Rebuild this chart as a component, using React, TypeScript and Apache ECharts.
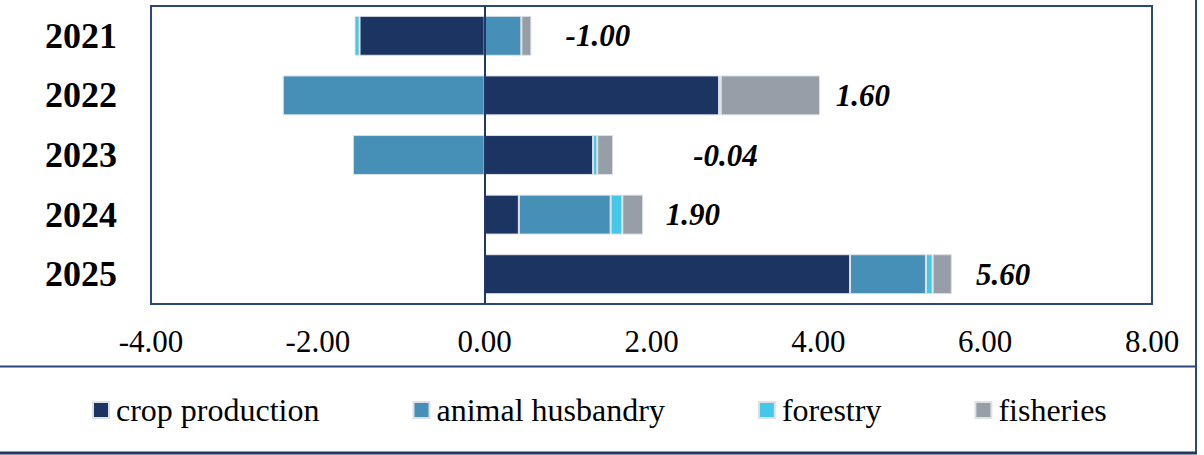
import React, { useEffect, useRef } from "react";
import * as echarts from "echarts";

const years = ["2021", "2022", "2023", "2024", "2025"];
const cropProduction = [-1.5, 2.81, 1.3, 0.41, 4.38];
const animalHusbandry = [0.44, -2.42, -1.58, 1.1, 0.91];
const forestry = [-0.06, 0.02, 0.05, 0.14, 0.08];
const fisheries = [0.12, 1.19, 0.19, 0.25, 0.23];
const totals = [-1.0, 1.6, -0.04, 1.9, 5.6];
const totalLabelAt = [0.97, 4.21, 2.5, 2.17, 5.89];
const xTicks = { min: -4, max: 8, interval: 2 };

const FONT = "'Liberation Serif', 'Times New Roman', serif";
const NAVY = "#2b4878";

export default function App() {
  const ref = useRef<HTMLDivElement>(null);
  useEffect(() => {
    if (!ref.current) return;
    const chart = echarts.init(ref.current, undefined, { renderer: "svg" });
    const barBase = {
      type: "bar",
      stack: "total",
      barCategoryGap: "33%",
      itemStyle: { borderColor: "#dde1e6", borderWidth: 1 },
    };
    chart.setOption({
      animation: false,
      backgroundColor: "#ffffff",
      grid: {
        left: 151,
        top: 6,
        width: 1001,
        height: 298,
        show: true,
        borderColor: NAVY,
        borderWidth: 2,
        backgroundColor: "transparent",
      },
      legend: {
        left: 92,
        top: 394,
        padding: 0,
        itemGap: 93,
        itemWidth: 16,
        itemHeight: 16,
        icon: "rect",
        textStyle: {
          fontFamily: FONT,
          fontSize: 32,
          color: "#000",
          padding: [0, 0, 0, 2],
        },
        data: ["crop production", "animal husbandry", "forestry", "fisheries"],
      },
      xAxis: {
        type: "value",
        min: xTicks.min,
        max: xTicks.max,
        interval: xTicks.interval,
        axisLine: { show: false },
        axisTick: { show: false },
        splitLine: { show: false },
        axisLabel: {
          fontFamily: FONT,
          fontSize: 31,
          color: "#000",
          margin: 22,
          formatter: (v: number) => v.toFixed(2),
        },
      },
      yAxis: {
        type: "category",
        data: years,
        inverse: true,
        axisLine: { show: false, onZero: false },
        axisTick: { show: false },
        axisLabel: {
          fontFamily: FONT,
          fontSize: 36,
          fontWeight: "bold",
          color: "#000",
          margin: 34,
        },
      },
      series: [
        {
          ...barBase,
          name: "crop production",
          data: cropProduction,
          itemStyle: { ...barBase.itemStyle, color: "#1c3461" },
          markLine: {
            silent: true,
            symbol: "none",
            label: { show: false },
            lineStyle: { color: "#1f3864", width: 2, type: "solid" },
            data: [{ xAxis: 0 }],
          },
        },
        {
          ...barBase,
          name: "animal husbandry",
          data: animalHusbandry,
          itemStyle: { ...barBase.itemStyle, color: "#4690b8" },
        },
        {
          ...barBase,
          name: "forestry",
          data: forestry,
          itemStyle: { ...barBase.itemStyle, color: "#45c8e8" },
        },
        {
          ...barBase,
          name: "fisheries",
          data: fisheries,
          itemStyle: { ...barBase.itemStyle, color: "#969ea8" },
        },
        {
          type: "scatter",
          name: "total",
          symbolSize: 0,
          silent: true,
          itemStyle: { opacity: 1 },
          data: totalLabelAt.map((x, i) => [x, years[i]]),
          label: {
            show: true,
            position: "right",
            distance: 0,
            opacity: 1,
            fontFamily: FONT,
            fontSize: 31,
            fontWeight: "bold",
            fontStyle: "italic",
            color: "#000",
            formatter: (p: any) => totals[p.dataIndex].toFixed(2),
          },
        },
      ],
      graphic: [
        {
          type: "line",
          shape: { x1: 0, y1: 366.5, x2: 1196, y2: 366.5 },
          style: { stroke: NAVY, lineWidth: 2 },
        },
        {
          type: "line",
          shape: { x1: 1196, y1: 0, x2: 1196, y2: 453 },
          style: { stroke: NAVY, lineWidth: 2 },
        },
        {
          type: "line",
          shape: { x1: 0, y1: 453, x2: 1197, y2: 453 },
          style: { stroke: "#1f3864", lineWidth: 3 },
        },
      ],
    });
    return () => chart.dispose();
  }, []);
  return (
    <div
      ref={ref}
      style={{ position: "fixed", left: 0, top: 0, width: 1204, height: 455 }}
    />
  );
}
